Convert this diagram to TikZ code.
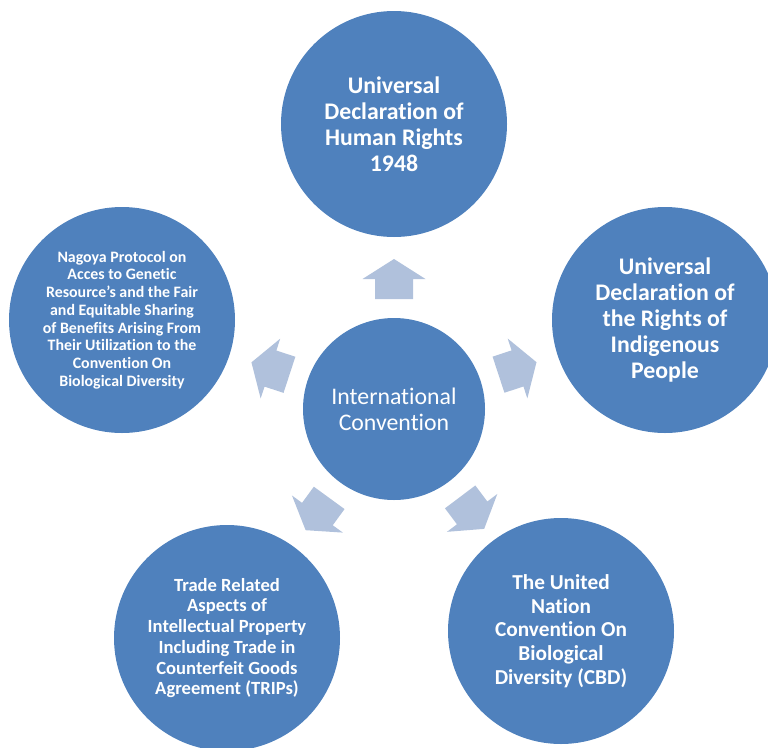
\documentclass[tikz,border=0pt]{standalone}
\usepackage{fontspec}
\setmainfont{Carlito}[Ligatures=NoCommon]
\usetikzlibrary{calc}
\definecolor{discblue}{RGB}{79,129,189}
\definecolor{spokeblue}{RGB}{176,193,220}
\tikzset{
  disc/.style={circle, fill=discblue, inner sep=0pt, minimum size=226pt,
    text=white, align=center},
  hubdisc/.style={disc, minimum size=182pt},
  bigtext/.style={font=\bfseries\fontsize{23.8}{26}\selectfont},
  spokefill/.style={fill=spokeblue}
}
% block arrow pointing from the hub towards a satellite disc
\newcommand\spokearrow[1]{%
  \coordinate (t) at ($(hub)!110pt!(#1)$);
  \coordinate (b) at ($(hub)!130pt!(#1)$);
  \coordinate (p) at ($(hub)!150pt!(#1)$);
  \fill[spokefill]
    ($(t)!19pt!90:(#1)$) -- ($(b)!19pt!90:(p)$) -- ($(b)!31.5pt!90:(p)$)
    -- (p) -- ($(b)!31.5pt!-90:(p)$) -- ($(b)!19pt!-90:(p)$)
    -- ($(t)!19pt!-90:(#1)$) -- cycle;
}
\begin{document}
\begin{tikzpicture}[x=1pt, y=-1pt]
  \useasboundingbox (0,0) rectangle (768,747);
  \clip (0,0) rectangle (768,747);

  \node[hubdisc, font=\fontsize{23.8}{26}\selectfont] (hub) at (394,409)
    {International\\Convention};

  \node[disc, bigtext] (udhr) at (394,124)
    {Universal\\Declaration of\\Human Rights\\1948};
  \node[disc, bigtext] (undrip) at (665,320)
    {Universal\\Declaration of\\the Rights of\\Indigenous\\People};
  \node[disc, font=\bfseries\fontsize{21.3}{23.6}\selectfont] (cbd) at (561,631)
    {The United\\Nation\\Convention On\\Biological\\Diversity (CBD)};
  \node[disc, font=\bfseries\fontsize{18.6}{20.7}\selectfont] (trips) at (227,638)
    {Trade Related\\Aspects of\\Intellectual Property\\Including Trade in\\Counterfeit Goods\\Agreement (TRIPs)};
  \node[disc, font=\bfseries\fontsize{15.9}{17.7}\selectfont] (nagoya) at (122,320)
    {Nagoya Protocol on\\Acces to Genetic\\Resource’s and the Fair\\and Equitable Sharing\\of Benefits Arising From\\Their Utilization to the\\Convention On\\Biological Diversity};

  \spokearrow{udhr}
  \spokearrow{undrip}
  \spokearrow{cbd}
  \spokearrow{trips}
  \spokearrow{nagoya}
\end{tikzpicture}
\end{document}
